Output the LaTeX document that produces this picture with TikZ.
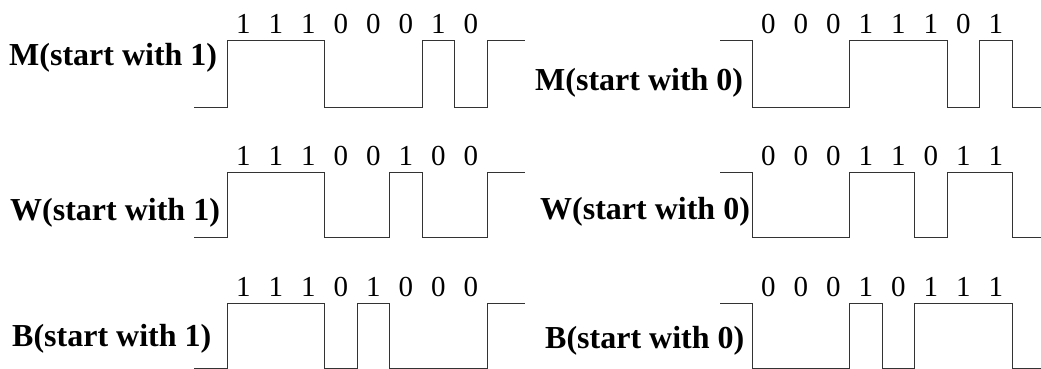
\documentclass[tikz,border=0pt]{standalone}
\usepackage{fontspec}
\setmainfont{Liberation Serif}
\begin{document}
\begin{tikzpicture}[x=1pt,y=-1pt,
  wave/.style={line width=1pt, draw=black!80, line join=miter},
  bitlbl/.style={anchor=base, inner sep=0pt, font=\fontsize{29}{29}\selectfont},
  rowlbl/.style={anchor=base west, inner sep=0pt, font=\fontsize{32}{32}\selectfont\bfseries}]
\useasboundingbox (0,0) rectangle (1041,369);

% ---- Row 1 ----
\draw[wave] (194,107) -| (227,41) -| (324.5,107) -| (422,41) -| (454.5,107) -| (487,41) -- (525,41);
\draw[wave] (720,41) -| (752,107) -| (849.5,41) -| (947,107) -| (979.5,41) -| (1012,107) -- (1041,107);
\node[rowlbl] (lm1) at (9,66) {M(start with 1)};
\node[rowlbl] (lm0) at (535,90) {M(start with 0)};
\foreach \d [count=\i from 0] in {1,1,1,0,0,0,1,0}
  \node[bitlbl] (m1-\i) at ({243.25+\i*32.5},34) {\d};
\foreach \d [count=\i from 0] in {0,0,0,1,1,1,0,1}
  \node[bitlbl] (m0-\i) at ({768.25+\i*32.5},34) {\d};

% ---- Row 2 ----
\draw[wave] (194,237) -| (227,172) -| (324.5,237) -| (389.5,172) -| (422,237) -| (487,172) -- (525,172);
\draw[wave] (720,172) -| (752,237) -| (849.5,172) -| (914.5,237) -| (947,172) -| (1012,237) -- (1041,237);
\node[rowlbl] (lw1) at (10,220) {W(start with 1)};
\node[rowlbl] (lw0) at (540,219) {W(start with 0)};
\foreach \d [count=\i from 0] in {1,1,1,0,0,1,0,0}
  \node[bitlbl] (w1-\i) at ({243.25+\i*32.5},165) {\d};
\foreach \d [count=\i from 0] in {0,0,0,1,1,0,1,1}
  \node[bitlbl] (w0-\i) at ({768.25+\i*32.5},165) {\d};

% ---- Row 3 ----
\draw[wave] (194,368) -| (227,303) -| (324.5,368) -| (357,303) -| (389.5,368) -| (487,303) -- (525,303);
\draw[wave] (720,303) -| (752,368) -| (849.5,303) -| (882,368) -| (914.5,303) -| (1012,368) -- (1041,368);
\node[rowlbl] (lb1) at (12,346) {B(start with 1)};
\node[rowlbl] (lb0) at (545,348) {B(start with 0)};
\foreach \d [count=\i from 0] in {1,1,1,0,1,0,0,0}
  \node[bitlbl] (b1-\i) at ({243.25+\i*32.5},296) {\d};
\foreach \d [count=\i from 0] in {0,0,0,1,0,1,1,1}
  \node[bitlbl] (b0-\i) at ({768.25+\i*32.5},296) {\d};
\end{tikzpicture}
\end{document}
